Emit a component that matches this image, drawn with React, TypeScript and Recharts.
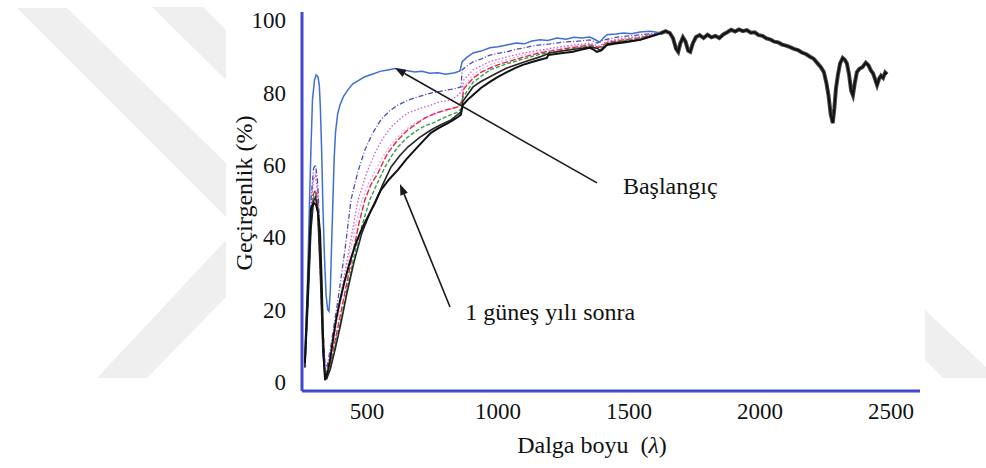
import { LineChart, Line, XAxis, YAxis, ReferenceLine, ReferenceDot, Label } from "recharts";

// wavelength (nm) and transmittance (%)

const nmBaslangic = [263, 272, 280, 286, 292, 300, 306, 313, 318, 322, 327, 332, 338, 344, 350, 355, 360, 365, 370, 375, 380, 388, 397, 410, 427, 445, 465, 492, 520, 550, 580, 607, 630, 660, 683, 710, 740, 771, 800, 836, 855, 863, 880, 905, 935, 969, 1000, 1034, 1070, 1100, 1130, 1160, 1190, 1225, 1260, 1290, 1320, 1351, 1370, 1389, 1405, 1416, 1450, 1480, 1510, 1542, 1580, 1620];
const tBaslangic = [8, 25, 48, 64, 78, 83.5, 84.8, 84.3, 82, 76, 64, 48, 34, 24, 20, 19.5, 25, 38, 50, 62, 69, 74, 76.5, 78.8, 80.7, 82.3, 83.2, 84.3, 85.0, 85.8, 86.2, 86.6, 86.3, 85.9, 85.6, 85.8, 85.3, 85.4, 85.0, 85.4, 85.9, 88.4, 89.6, 90.9, 91.4, 92.3, 92.6, 93.1, 93.6, 93.4, 94.2, 94.5, 94.3, 95.0, 94.7, 95.2, 95.0, 95.3, 94.6, 93.9, 95.2, 95.9, 96.1, 96.4, 96.2, 96.7, 96.9, 96.5];

const nmMor = [263, 275, 286, 296, 304, 312, 322, 332, 340, 347, 360, 375, 389, 416, 439, 465, 492, 520, 553, 585, 618, 650, 683, 715, 744, 775, 809, 835, 859, 863, 880, 905, 935, 969, 1000, 1034, 1070, 1100, 1130, 1160, 1200, 1250, 1300, 1351, 1380, 1400, 1450, 1500, 1542, 1580, 1620];
const tMor = [6, 28, 50, 59, 60, 55, 38, 15, 5, 4, 9, 16, 22.6, 36.5, 50.3, 58, 64.1, 68.5, 72.4, 74.8, 76.5, 77.6, 78.5, 79.2, 79.8, 80.2, 80.7, 81.0, 81.5, 86.2, 87.2, 88.4, 89.2, 90.3, 90.8, 91.2, 91.9, 92.3, 92.8, 93.1, 93.4, 93.9, 94.1, 94.5, 93.6, 94.4, 95.2, 95.6, 95.9, 96.2, 96.3];

const nmPembe = [263, 275, 286, 296, 304, 312, 322, 332, 340, 347, 360, 380, 400, 420, 445, 466, 500, 531, 560, 592, 625, 656, 700, 744, 779, 821, 844, 862, 870, 905, 969, 1034, 1100, 1160, 1250, 1351, 1385, 1420, 1480, 1542, 1580, 1620];
const tPembe = [5, 26, 47, 56, 57, 52, 34, 12, 4, 3, 7, 16, 24, 32, 42, 50.3, 58, 63.3, 67.2, 70.4, 72.6, 74.3, 75.5, 76.5, 77.4, 77.9, 79.0, 80.5, 83.5, 86.2, 88.5, 89.8, 90.9, 91.7, 92.7, 93.6, 92.8, 94.2, 94.9, 95.4, 95.9, 96.3];

const nmAcikPembe = [263, 275, 286, 296, 304, 312, 322, 332, 340, 347, 360, 380, 400, 425, 450, 477, 510, 553, 585, 618, 650, 683, 730, 771, 836, 860, 870, 905, 969, 1034, 1100, 1160, 1250, 1351, 1385, 1420, 1480, 1542, 1580, 1620];
const tAcikPembe = [5, 27, 48, 57, 58, 53, 35, 12, 3.5, 2.5, 6, 14, 22, 32, 41, 49.4, 55.5, 61.3, 65, 67.7, 69.8, 71.5, 73.2, 74.3, 75.7, 77, 81.5, 85, 87.6, 89.1, 90.3, 91.3, 92.3, 93.3, 92.5, 93.9, 94.6, 95.2, 95.8, 96.3];

const nmKirmizi = [263, 275, 286, 296, 304, 312, 322, 332, 340, 347, 360, 380, 400, 425, 450, 470, 492, 515, 542, 560, 580, 615, 656, 690, 721, 760, 798, 847, 862, 870, 905, 935, 969, 1000, 1034, 1100, 1160, 1250, 1351, 1385, 1420, 1480, 1542, 1580, 1620];
const tKirmizi = [5, 24, 44, 52, 53, 49, 32, 10, 3, 2, 5, 12, 19, 28, 37, 44, 50.3, 54.5, 57.7, 60.5, 63.3, 66.6, 69.6, 71.4, 72.9, 74.2, 75.1, 76.0, 77.5, 81, 83.9, 85.5, 86.7, 87.6, 88.4, 89.8, 90.9, 92.0, 93.1, 92.4, 93.8, 94.5, 95.0, 95.7, 96.3];

const nmYesil = [263, 275, 286, 296, 304, 312, 322, 332, 340, 347, 360, 380, 400, 425, 450, 480, 511, 540, 569, 595, 618, 650, 683, 720, 760, 800, 845, 860, 866, 905, 969, 1034, 1100, 1160, 1250, 1351, 1385, 1420, 1480, 1542, 1580, 1620];
const tYesil = [4, 23, 43, 51, 52, 48, 31, 9, 2.5, 1.5, 4, 10.5, 17, 26, 34.5, 43, 50.3, 55, 59.4, 62.5, 64.9, 67.3, 69.1, 70.7, 71.8, 73.2, 74.5, 75.5, 78.5, 82.8, 86.2, 87.9, 89.3, 90.5, 91.6, 92.8, 92.0, 93.5, 94.3, 94.9, 95.6, 96.3];

const nmIcSiyah = [263, 275, 286, 296, 304, 312, 322, 332, 340, 347, 360, 380, 400, 425, 450, 480, 510, 531, 560, 592, 625, 656, 700, 744, 780, 821, 859, 866, 905, 935, 969, 1000, 1034, 1100, 1160, 1198, 1250, 1300, 1351, 1378, 1390, 1420, 1480, 1542, 1580, 1620];
const tIcSiyah = [4, 22, 42, 50, 51, 47, 30, 8, 2, 1, 3.5, 9.5, 16, 25, 33, 41, 46.5, 49.4, 54.5, 59.4, 62.5, 64.9, 67.5, 69.6, 71.0, 72.4, 74.6, 77.5, 81.5, 83.0, 84.3, 85.5, 86.7, 88.4, 89.8, 90.9, 91.5, 92.0, 92.5, 92.2, 91.6, 93.4, 94.0, 94.5, 95.3, 96.2];

// "1 güneş yılı sonra" (outer black) up to where all curves meet
const nmSonra = [263, 270, 275, 281, 286, 292, 298, 306, 314, 321, 327, 332, 336, 340, 345, 352, 359, 370, 382, 398, 416, 436, 458, 485, 511, 530, 553, 585, 618, 650, 683, 715, 744, 775, 809, 830, 847, 858, 866, 885, 905, 935, 969, 1000, 1034, 1065, 1095, 1130, 1160, 1187, 1192, 1240, 1286, 1320, 1351, 1365, 1378, 1395, 1416, 1450, 1480, 1510, 1542, 1580];
const tSonra = [5.2, 18, 27.3, 38, 47.5, 49, 49.4, 48.8, 46.5, 41.2, 28, 13.5, 5, 0.5, 1.5, 3.5, 6.1, 11.5, 17.1, 22.8, 28.2, 33.5, 38.4, 43, 46.7, 49.5, 53.0, 56, 58.6, 61.5, 64.1, 66.6, 68.8, 70.2, 71.5, 72.4, 73.2, 73.8, 76.5, 78, 79.3, 81.2, 82.9, 84.3, 85.6, 86.7, 87.6, 88.4, 89.0, 89.5, 90.3, 90.8, 91.2, 91.8, 92.3, 91.8, 91.2, 91.6, 93.1, 93.5, 93.8, 94.1, 94.5, 95.4];

// shared NIR part where every curve overlaps
const nmOrtak = [1620, 1640, 1656, 1668, 1680, 1688, 1696, 1706, 1716, 1726, 1734, 1744, 1756, 1770, 1785, 1800, 1815, 1830, 1845, 1860, 1875, 1890, 1905, 1920, 1935, 1950, 1965, 1980, 1995, 2010, 2025, 2040, 2055, 2070, 2085, 2100, 2115, 2130, 2145, 2160, 2175, 2190, 2205, 2220, 2232, 2244, 2254, 2262, 2270, 2278, 2284, 2290, 2298, 2306, 2316, 2324, 2332, 2340, 2348, 2355, 2362, 2370, 2380, 2392, 2404, 2414, 2424, 2432, 2440, 2447, 2455, 2462, 2470, 2478, 2485];
const tOrtak = [96.3, 96.9, 96.4, 95.0, 92.0, 91.2, 93.5, 95.2, 94.0, 91.5, 91.2, 93.6, 95.3, 95.8, 95.0, 95.9, 95.2, 95.6, 95.0, 96.0, 96.6, 97.3, 96.8, 97.4, 96.9, 97.2, 96.5, 96.6, 95.8, 95.6, 94.9, 94.6, 94.0, 93.8, 93.2, 92.9, 92.5, 92.0, 91.7, 91.0, 90.6, 89.9, 89.3, 88.0, 87.0, 85.6, 82.5, 79.0, 74.0, 71.5, 75.5, 81.0, 85.0, 88.0, 89.5, 89.0, 88.0, 85.0, 80.5, 79.2, 82.5, 85.6, 86.5, 87.0, 88.2, 87.5, 86.0, 85.2, 83.5, 82.0, 83.8, 84.6, 84.0, 85.5, 85.0];

const xTicks = [500, 1000, 1500, 2000, 2500];
const yTicks = [0, 20, 40, 60, 80, 100];

const pts = (nm: number[], t: number[]) => nm.map((x, i) => ({ nm: x, t: t[i] }));

const series = [
  { key: "acikpembe", data: pts(nmAcikPembe, tAcikPembe), color: "#f2a9e4", width: 1.3, dash: "2 2" },
  { key: "pembe", data: pts(nmPembe, tPembe), color: "#c85fd0", width: 1.3, dash: "1.5 2" },
  { key: "kirmizi", data: pts(nmKirmizi, tKirmizi), color: "#e8244c", width: 1.4, dash: "6 2" },
  { key: "yesil", data: pts(nmYesil, tYesil), color: "#34a046", width: 1.4, dash: "4 2" },
  { key: "mor", data: pts(nmMor, tMor), color: "#5448b8", width: 1.3, dash: "5 2 1 2" },
  { key: "baslangic", data: pts(nmBaslangic, tBaslangic), color: "#3f6fd2", width: 1.5, dash: undefined },
  { key: "icsiyah", data: pts(nmIcSiyah, tIcSiyah), color: "#262626", width: 1.6, dash: undefined },
];

const sonraData = pts(nmSonra.concat(nmOrtak), tSonra.concat(tOrtak));
const ortakData = pts(nmOrtak, tOrtak);

const serif = "'Liberation Serif', serif";
const css = `#root .recharts-wrapper svg text, #root .recharts-wrapper svg tspan { font-family: 'Liberation Serif', serif !important; }`;

const Arrow = (p: any) => {
  const { x1, y1, x2, y2 } = p;
  const a = Math.atan2(y2 - y1, x2 - x1);
  const len = 11;
  const w = 4;
  const bx = x2 - len * Math.cos(a);
  const by = y2 - len * Math.sin(a);
  const head = `${x2},${y2} ${bx - w * Math.sin(a)},${by + w * Math.cos(a)} ${bx + w * Math.sin(a)},${by - w * Math.cos(a)}`;
  return (
    <g>
      <line x1={x1} y1={y1} x2={bx} y2={by} stroke="#1a1a1a" strokeWidth={1.6} />
      <polygon points={head} fill="#1a1a1a" />
    </g>
  );
};

const note = (text: string) => (p: any) => (
  <text x={p.cx} y={p.cy} fontFamily={serif} fontSize={24} fill="#111">
    {text}
  </text>
);

export default function App() {
  return (
    <div style={{ position: "absolute", left: 0, top: 0, width: 986, height: 468, background: "#fff" }}>
      <style>{css}</style>
      {/* faint watermark behind the pasted figure */}
      <svg width={986} height={468} style={{ position: "absolute", left: 0, top: 0 }}>
        <polygon points="17,8 67,8 226,163 226,217" fill="#efefef" />
        <polygon points="152,7 203,7 226,30 226,80" fill="#efefef" />
        <polygon points="226,240 226,297 147,378 97,378" fill="#efefef" />
        <polygon points="925,310 986,367 986,378 943,378 925,360" fill="#efefef" />
      </svg>
      <div style={{ position: "absolute", left: 0, top: 0 }}>
        <LineChart width={986} height={468} margin={{ top: 12, right: 66, bottom: 0, left: 0 }}>
          <XAxis
            type="number"
            dataKey="nm"
            domain={[252, 2611]}
            ticks={xTicks}
            allowDataOverflow
            height={77}
            axisLine={{ stroke: "#4049d0", strokeWidth: 3 }}
            tickLine={false}
            tickMargin={6}
            tick={{ fill: "#111", fontSize: 23, fontFamily: serif }}
          >
            <Label
              content={() => (
                <text x={592} y={453} textAnchor="middle" fontFamily={serif} fontSize={24} fill="#111">
                  Dalga boyu{"\u00a0\u00a0"}(<tspan fontStyle="italic">λ</tspan>)
                </text>
              )}
            />
          </XAxis>
          <YAxis
            type="number"
            domain={[-2.5, 102.2]}
            ticks={yTicks}
            allowDataOverflow
            width={302}
            axisLine={{ stroke: "#4049d0", strokeWidth: 3 }}
            tickLine={false}
            tickMargin={10}
            tick={{ fill: "#111", fontSize: 23, fontFamily: serif }}
          >
            <Label
              content={() => (
                <text
                  transform="translate(244,193) rotate(-90)"
                  textAnchor="middle"
                  dominantBaseline="central"
                  fontFamily={serif}
                  fontSize={24}
                  fill="#111"
                >
                  Geçirgenlik (%)
                </text>
              )}
            />
          </YAxis>
          {series.map((s) => (
            <Line
              key={s.key}
              data={s.data}
              dataKey="t"
              type="linear"
              stroke={s.color}
              strokeWidth={s.width}
              strokeDasharray={s.dash}
              dot={false}
              activeDot={false}
              isAnimationActive={false}
            />
          ))}
          <Line data={ortakData} dataKey="t" type="linear" stroke="#4a4a4a" strokeWidth={4} dot={false} activeDot={false} isAnimationActive={false} />
          <Line data={sonraData} dataKey="t" type="linear" stroke="#111" strokeWidth={2} dot={false} activeDot={false} isAnimationActive={false} />
          <ReferenceLine segment={[{ x: 1378, y: 55.0 }, { x: 607, y: 86.7 }]} shape={Arrow} />
          <ReferenceLine segment={[{ x: 817, y: 20.7 }, { x: 626, y: 54.7 }]} shape={Arrow} />
          <ReferenceDot x={1477} y={51.9} shape={note("Başlangıç")} />
          <ReferenceDot x={875} y={17.1} shape={note("1 güneş yılı sonra")} />
        </LineChart>
      </div>
    </div>
  );
}
